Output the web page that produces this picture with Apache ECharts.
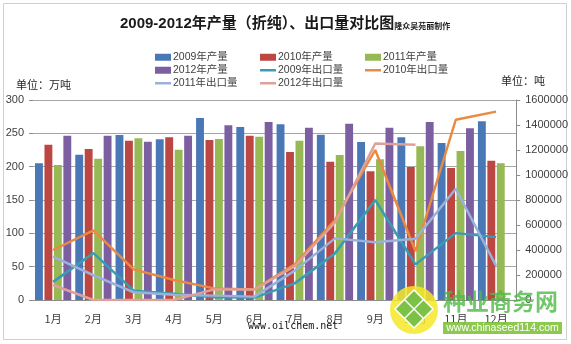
<!DOCTYPE html>
<html>
<head>
<meta charset="utf-8">
<script src="https://cdn.jsdelivr.net/npm/echarts@6/dist/echarts.min.js"></script>
<style>html,body{margin:0;padding:0;background:#fff}#c{width:571px;height:344px}</style>
</head>
<body>
<div id="c"></div>
<script>
const months = ['1月','2月','3月','4月','5月','6月','7月','8月','9月','10月','11月','12月'];
const prod2009 = [205,218,247.5,241,273,259.5,263.5,248,237,244,235.5,268];
const prod2010 = [233,226.5,239,244,240,246.5,222,207.5,193,199.5,198,209];
const prod2011 = [202.5,212,242.5,225.5,241.5,245,239,217.5,211,230.5,223.5,205];
const prod2012 = [246.5,246.5,237.5,246.5,262,267,258.5,264.5,258.5,267,257.5,null];
const exp2009 = [145000,375000,75000,50000,22000,19000,133000,373000,800000,285000,535000,503000];
const exp2010 = [400000,557000,245000,160000,93000,85000,285000,640000,1200000,390000,1442000,1507000];
const exp2011 = [347000,198000,62000,42000,35000,27000,235000,493000,462000,490000,890000,275000];
const exp2012 = [120000,0,0,0,85000,85000,270000,620000,1252000,1242000,null,null];
const leftTicks = {min:0,max:300,interval:50};
const rightTicks = {min:0,max:1600000,interval:200000};

const NUMF = "'Liberation Sans Narrow','Liberation Sans','Noto Sans CJK SC',sans-serif";
const colors = {
  b09:'#4A78B6', b10:'#BC4642', b11:'#96B955', b12:'#7C5FA0',
  l09:'#3A9CB2', l10:'#E98A40', l11:'#9BB0DA', l12:'#E0A09A'
};

const chart = echarts.init(document.getElementById('c'), null, {renderer:'canvas'});

function legendAt(name, x, y, isLine){
  return {data:[{name, icon:'rect'}], left:x, top:y, itemWidth:16, itemHeight:isLine?2.5:7, itemGap:0,
    padding:0, textStyle:{fontFamily:NUMF, fontSize:10.5, color:'#404040', padding:[0,0,0,-3]}};
}
const lx = [155,260,365], ly = [52,65,78];

function barS(name, data, color){
  return {name, type:'bar', data, yAxisIndex:0, barGap:'20%', barCategoryGap:'10%',
    itemStyle:{color}, emphasis:{disabled:true}};
}
function lineS(name, data, color){
  return {name, type:'line', data, yAxisIndex:1, symbol:'none', showSymbol:false,
    lineStyle:{color, width:2.5}, itemStyle:{color}, z:5, emphasis:{disabled:true}};
}

chart.setOption({
  animation:false,
  backgroundColor:'#fff',
  title:{
    left:120, top:16, padding:0,
    text:'{a|2009-2012年产量（折纯）、出口量对比图}{b|隆众吴苑丽制作}',
    textStyle:{rich:{
      a:{fontFamily:NUMF, fontSize:15, fontWeight:'bold', color:'#1a1a1a'},
      b:{fontFamily:"'Noto Sans CJK SC',sans-serif", fontSize:8, fontWeight:'bold', color:'#1a1a1a', padding:[4,0,0,0]}
    }}
  },
  legend:[
    legendAt('2009年产量', lx[0], ly[0]),
    legendAt('2010年产量', lx[1], ly[0]),
    legendAt('2011年产量', lx[2], ly[0]),
    legendAt('2012年产量', lx[0], ly[1]),
    legendAt('2009年出口量', lx[1], ly[1], true),
    legendAt('2010年出口量', lx[2], ly[1], true),
    legendAt('2011年出口量', lx[0], ly[2], true),
    legendAt('2012年出口量', lx[1], ly[2], true)
  ],
  grid:{left:33, right:52, top:100, bottom:44, containLabel:false},
  xAxis:{type:'category', data:months,
    axisLine:{show:true, lineStyle:{color:'#8c8c8c'}},
    axisTick:{show:false},
    axisLabel:{margin:13, fontFamily:"'Noto Sans CJK SC',sans-serif", fontSize:11, color:'#404040'}
  },
  yAxis:[
    {type:'value', min:leftTicks.min, max:leftTicks.max, interval:leftTicks.interval,
      axisLine:{show:false}, axisTick:{show:true, length:4, lineStyle:{color:'#8c8c8c'}},
      axisLabel:{margin:9, fontFamily:NUMF, fontSize:11, color:'#404040'},
      splitLine:{show:true, lineStyle:{color:'#a6a6a6', width:1}}},
    {type:'value', position:'right', min:rightTicks.min, max:rightTicks.max, interval:rightTicks.interval,
      axisLine:{show:true, lineStyle:{color:'#8c8c8c'}}, axisTick:{show:true, length:4, lineStyle:{color:'#8c8c8c'}},
      axisLabel:{margin:9, fontFamily:NUMF, fontSize:11, color:'#404040', formatter:v=>String(v)},
      splitLine:{show:false}}
  ],
  series:[
    barS('2009年产量', prod2009, colors.b09),
    barS('2010年产量', prod2010, colors.b10),
    barS('2011年产量', prod2011, colors.b11),
    barS('2012年产量', prod2012, colors.b12),
    lineS('2009年出口量', exp2009, colors.l09),
    lineS('2010年出口量', exp2010, colors.l10),
    lineS('2011年出口量', exp2011, colors.l11),
    lineS('2012年出口量', exp2012, colors.l12)
  ],
  graphic:[
    {type:'rect', z:-1, shape:{x:3.5,y:3.5,width:563,height:336}, style:{fill:'none', stroke:'#cfcfcf', lineWidth:1}},
    {type:'text', left:16, top:79, style:{text:'单位：万吨', font:"11px 'Noto Sans CJK SC'", fill:'#262626'}},
    {type:'text', left:501, top:75, style:{text:'单位：吨', font:"11px 'Noto Sans CJK SC'", fill:'#262626'}},
    {type:'text', left:248, top:321, z:100, style:{text:'www.oilchem.net', font:"10px 'DejaVu Sans Mono'", fill:'#111'}},
    {type:'circle', z:100, shape:{cx:414, cy:310, r:24}, style:{fill:'rgba(245,232,40,0.85)'}},
    {type:'polygon', z:101, shape:{points:[[414,290],[433,309],[414,328],[395,309]]}, style:{fill:'rgba(110,190,70,0.9)', stroke:'#fff', lineWidth:1.5}},
    {type:'line', z:102, shape:{x1:404.5,y1:299.5,x2:423.5,y2:318.5}, style:{stroke:'#fff', lineWidth:1.5}},
    {type:'line', z:102, shape:{x1:423.5,y1:299.5,x2:404.5,y2:318.5}, style:{stroke:'#fff', lineWidth:1.5}},
    {type:'text', left:443, top:290, z:100, style:{text:'种业商务网', font:"bold 23px 'Noto Sans CJK SC'", fill:'rgba(80,185,70,0.8)'}},
    {type:'rect', z:100, shape:{x:443, y:322, width:119, height:12}, style:{fill:'rgba(130,195,60,0.9)'}},
    {type:'text', z:101, x:502.5, y:328, style:{text:'www.chinaseed114.com', font:"10.5px 'Liberation Sans Narrow','Liberation Sans'", fill:'#fff', align:'center', verticalAlign:'middle'}}
  ]
});
</script>
</body>
</html>
